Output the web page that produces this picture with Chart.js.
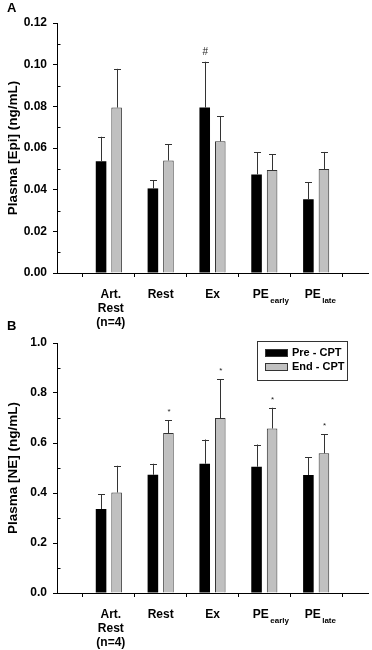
<!DOCTYPE html>
<html>
<head>
<meta charset="utf-8">
<script src="https://cdn.jsdelivr.net/npm/chart.js@4/dist/chart.umd.min.js"></script>
<style>
  body { margin: 0; background: #fff; }
  #wrap { position: relative; width: 372px; height: 650px; }
  #wrap canvas { position: absolute; left: 0; }
  #panelA { top: 0; }
  #panelB { top: 318px; }
</style>
</head>
<body>
<div id="wrap">
  <canvas id="panelA" width="372" height="335"></canvas>
  <canvas id="panelB" width="372" height="332"></canvas>
</div>
<script>
// Plasma Epi / NE, pre vs end CPT, two stacked bar panels with SE bars.
const labelMain = [['Art.', 'Rest', '(n=4)'], ['Rest'], ['Ex'], ['PE'], ['PE']];
const labelSub = ['', '', '', 'early', 'late'];
const seriesNames = ['Pre - CPT', 'End - CPT'];

const epiPre = [0.0537, 0.0406, 0.0794, 0.0473, 0.0354];
const epiPreErr = [0.0117, 0.0040, 0.0220, 0.0106, 0.0082];
const epiEnd = [0.0794, 0.0540, 0.0632, 0.0494, 0.0499];
const epiEndErr = [0.0186, 0.0078, 0.0120, 0.0075, 0.0082];
const epiPreSig = ['', '', '#', '', ''];
const epiEndSig = ['', '', '', '', ''];

const nePre = [0.336, 0.473, 0.517, 0.505, 0.472];
const nePreErr = [0.060, 0.044, 0.097, 0.089, 0.071];
const neEnd = [0.402, 0.640, 0.700, 0.658, 0.559];
const neEndErr = [0.107, 0.052, 0.156, 0.083, 0.076];
const nePreSig = ['', '', '', '', ''];
const neEndSig = ['', '*', '*', '*', '*'];

const FONT = "'Liberation Sans', Arial, sans-serif";
const BLACK = '#000';
const GRAY = '#c0c0c0';
const EDGE = '#333';

Chart.defaults.font.family = FONT;
Chart.defaults.color = '#000';

// pad with empty slots so the groups sit at 1..5 on a 0..6 axis
function pad(arr) { return [null].concat(arr, [null]); }

const errorBars = {
  id: 'errorBars',
  afterDatasetsDraw(chart) {
    const ctx = chart.ctx;
    const ys = chart.scales.y;
    ctx.save();
    chart.data.datasets.forEach(function (ds, d) {
      const meta = chart.getDatasetMeta(d);
      meta.data.forEach(function (el, i) {
        const v = ds.data[i];
        if (v == null) return;
        const top = ys.getPixelForValue(v + ds.err[i]);
        ctx.strokeStyle = EDGE;
        ctx.lineWidth = 1;
        ctx.beginPath();
        ctx.moveTo(Math.round(el.x) + 0.5, el.y);
        ctx.lineTo(Math.round(el.x) + 0.5, top);
        ctx.moveTo(Math.round(el.x) - 3, Math.round(top) + 0.5);
        ctx.lineTo(Math.round(el.x) + 4, Math.round(top) + 0.5);
        ctx.stroke();
        const mark = ds.sig[i];
        if (mark) {
          ctx.fillStyle = '#222';
          ctx.textAlign = 'center';
          ctx.textBaseline = 'middle';
          ctx.font = (mark === '#' ? '10px ' : '8px ') + FONT;
          ctx.fillText(mark, el.x + 0.5, top - (mark === '#' ? 10 : 8));
        }
      });
    });
    ctx.restore();
  }
};

// minor ticks (unlabelled) point into the plot, major ones out
const minorTicks = {
  id: 'minorTicks',
  afterDraw(chart) {
    const ys = chart.scales.y;
    const ctx = chart.ctx;
    const x = Math.round(chart.chartArea.left) + 0.5;
    ctx.save();
    ctx.strokeStyle = '#000';
    ctx.lineWidth = 1;
    ctx.beginPath();
    ys.ticks.forEach(function (t, i) {
      if (ys.getLabelForValue && ys._tickMinor && ys._tickMinor(t.value)) {
        const y = Math.round(ys.getPixelForTick(i)) + 0.5;
        ctx.moveTo(x, y);
        ctx.lineTo(x + 3, y);
      }
    });
    ctx.stroke();
    ctx.restore();
  }
};

const panelText = {
  id: 'panelText',
  afterDraw(chart, args, opts) {
    const ctx = chart.ctx;
    const xs = chart.scales.x;
    const bottom = chart.chartArea.bottom;
    ctx.save();
    ctx.fillStyle = '#000';
    ctx.textBaseline = 'middle';

    ctx.font = 'bold 13px ' + FONT;
    ctx.textAlign = 'left';
    ctx.fillText(opts.letter, 7, opts.letterY);

    labelMain.forEach(function (lines, i) {
      const cx = xs.getPixelForValue(i + 1);
      const cy = bottom + 22;
      if (labelSub[i]) {
        ctx.font = 'bold 12px ' + FONT;
        ctx.textAlign = 'left';
        const x0 = cx - 11.5;
        ctx.fillText(lines[0], x0, cy);
        const w = ctx.measureText(lines[0]).width;
        ctx.font = 'bold 8px ' + FONT;
        ctx.textBaseline = 'alphabetic';
        ctx.fillText(labelSub[i], x0 + w + 1.5, cy + 8);
        ctx.textBaseline = 'middle';
      } else {
        ctx.font = 'bold 12px ' + FONT;
        ctx.textAlign = 'center';
        lines.forEach(function (t, k) {
          ctx.fillText(t, cx + (lines.length > 1 ? 2 : 0), cy + k * 14);
        });
      }
    });

    if (opts.legend) {
      const lx = 257, ly = 23, lw = 90, lh = 39;
      ctx.strokeStyle = EDGE;
      ctx.lineWidth = 1;
      ctx.strokeRect(lx + 0.5, ly + 0.5, lw, lh);
      chart.data.datasets.forEach(function (ds, d) {
        const ry = ly + 12 + d * 14;
        ctx.fillStyle = ds.backgroundColor;
        ctx.fillRect(265, ry - 3, 22, 6);
        ctx.strokeStyle = EDGE;
        ctx.strokeRect(265.5, ry - 3.5, 22, 7);
        ctx.fillStyle = '#000';
        ctx.font = 'bold 11px ' + FONT;
        ctx.textAlign = 'left';
        ctx.fillText(ds.label, 292, ry);
      });
    }
    ctx.restore();
  }
};

function makePanel(id, cfg) {
  const canvas = document.getElementById(id);
  const H = canvas.height;
  const isMinor = function (v) { return cfg.tick(v) === ''; };
  return new Chart(canvas, {
    type: 'bar',
    data: {
      labels: ['', '', '', '', '', '', ''],
      datasets: [
        {
          label: seriesNames[0],
          data: pad(cfg.pre), err: pad(cfg.preErr), sig: pad(cfg.preSig),
          backgroundColor: BLACK, borderColor: BLACK, borderWidth: 0,
          categoryPercentage: 0.6, barPercentage: 0.68,
        },
        {
          label: seriesNames[1],
          data: pad(cfg.end), err: pad(cfg.endErr), sig: pad(cfg.endSig),
          backgroundColor: GRAY, borderColor: EDGE, borderWidth: 1,
          categoryPercentage: 0.6, barPercentage: 0.68,
        },
      ],
    },
    options: {
      responsive: false,
      animation: false,
      layout: { padding: { top: cfg.top, right: 4, left: 0, bottom: 0 } },
      plugins: {
        legend: { display: false },
        tooltip: { enabled: false },
        panelText: { letter: cfg.letter, letterY: cfg.letterY, legend: cfg.legend },
      },
      scales: {
        x: {
          type: 'category',
          offset: false,
          ticks: { display: false },
          grid: { drawOnChartArea: false, tickLength: 4, color: '#000' },
          border: { color: '#000' },
          afterFit: function (s) { s.height = H - cfg.bottom; },
        },
        y: {
          min: 0,
          max: cfg.max,
          ticks: {
            stepSize: cfg.step,
            autoSkip: false,
            padding: 6,
            color: '#000',
            font: { size: 12, weight: 'bold' },
            callback: cfg.tick,
          },
          grid: {
            drawOnChartArea: false,
            tickLength: 4,
            tickColor: function (c) { return c.tick && isMinor(c.tick.value) ? 'rgba(0,0,0,0)' : '#000'; },
          },
          border: { color: '#000' },
          title: {
            display: true,
            text: cfg.title,
            color: '#000',
            font: { size: 13.5, weight: 'bold' },
            padding: { top: 5, bottom: 0 },
          },
          afterFit: function (s) { s.width = 57; s._tickMinor = isMinor; },
        },
      },
    },
    plugins: [errorBars, minorTicks, panelText],
  });
}

makePanel('panelA', {
  pre: epiPre, preErr: epiPreErr, preSig: epiPreSig,
  end: epiEnd, endErr: epiEndErr, endSig: epiEndSig,
  max: 0.12, step: 0.01, top: 23, bottom: 273,
  title: 'Plasma [Epi] (ng/mL)', letter: 'A', letterY: 8, legend: false,
  tick: function (v) { return Math.round(v * 100) % 2 === 0 ? v.toFixed(2) : ''; },
});

makePanel('panelB', {
  pre: nePre, preErr: nePreErr, preSig: nePreSig,
  end: neEnd, endErr: neEndErr, endSig: neEndSig,
  max: 1.0, step: 0.1, top: 25, bottom: 275,
  title: 'Plasma [NE] (ng/mL)', letter: 'B', letterY: 8, legend: true,
  tick: function (v) { return Math.round(v * 10) % 2 === 0 ? v.toFixed(1) : ''; },
});
</script>
</body>
</html>
